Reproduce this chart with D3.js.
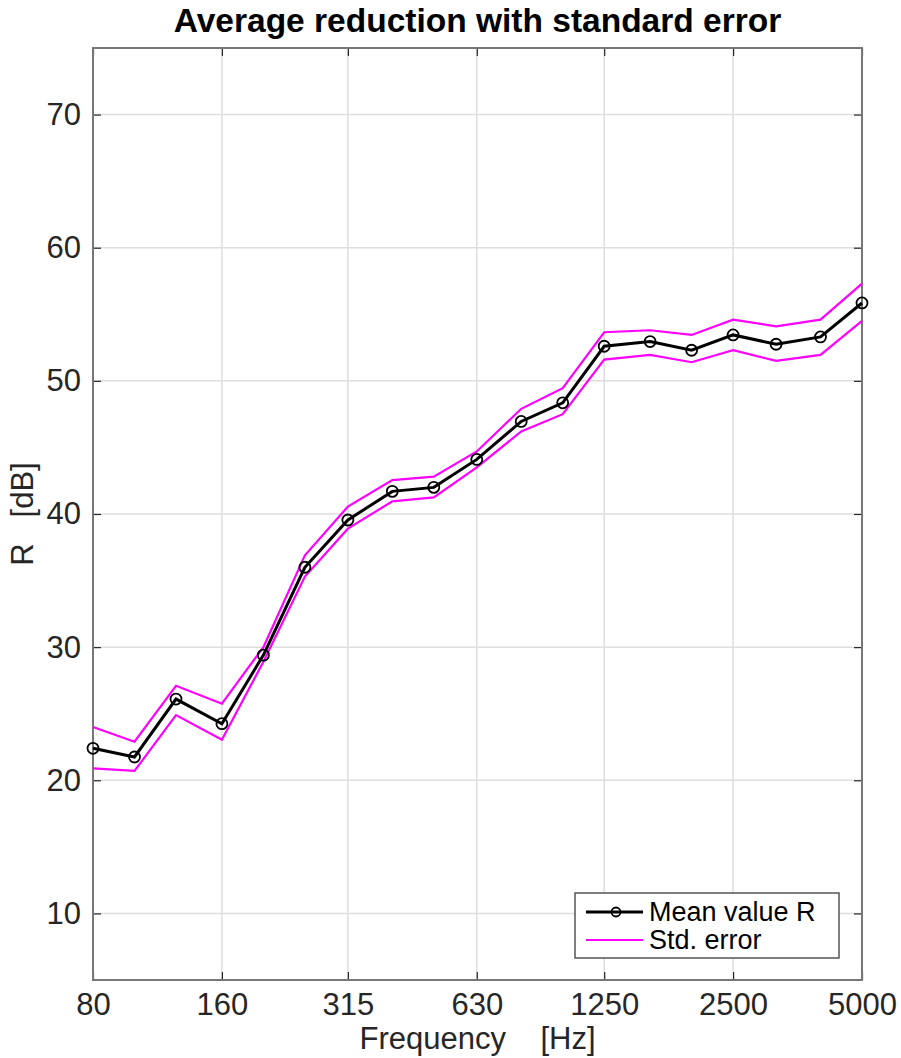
<!DOCTYPE html>
<html>
<head>
<meta charset="utf-8">
<script src="https://cdn.jsdelivr.net/npm/d3@7"></script>
<style>
  body { margin: 0; background: #fff; }
  text { font-family: "Liberation Sans", Arial, sans-serif; }
</style>
</head>
<body>
<div id="chart"></div>
<script>
var svgWidth = 901;
var svgHeight = 1058;

var margin = { top: 48, right: 39, bottom: 78, left: 93 };
var width = svgWidth - margin.left - margin.right;
var height = svgHeight - margin.top - margin.bottom;

// third-octave bands
var freqs = [80, 100, 125, 160, 200, 250, 315, 400, 500, 630, 800, 1000, 1250, 1600, 2000, 2500, 3150, 4000, 5000];
var meanR = [22.4, 21.75, 26.1, 24.25, 29.4, 36.0, 39.55, 41.7, 42.0, 44.1, 46.95, 48.35, 52.6, 52.95, 52.3, 53.45, 52.75, 53.3, 55.85];
var upperR = [24.0, 22.9, 27.1, 25.75, 30.0, 36.9, 40.55, 42.55, 42.8, 44.7, 47.9, 49.45, 53.65, 53.8, 53.45, 54.6, 54.1, 54.6, 57.3];
var lowerR = [20.9, 20.7, 24.9, 23.05, 28.9, 35.3, 38.9, 40.95, 41.25, 43.5, 46.2, 47.5, 51.6, 51.95, 51.4, 52.3, 51.5, 51.95, 54.5];
var xTicks = [80, 160, 315, 630, 1250, 2500, 5000];
var yTicks = [10, 20, 30, 40, 50, 60, 70];

var svg = d3.select("#chart")
  .append("svg")
  .attr("width", svgWidth)
  .attr("height", svgHeight);

var chartGroup = svg.append("g")
  .attr("transform", `translate(${margin.left}, ${margin.top})`);

var xScale = d3.scaleLog().domain([80, 5000]).range([0, width]);
var yScale = d3.scaleLinear().domain([5, 75]).range([height, 0]);

// grid
chartGroup.selectAll(".xgrid")
  .data(xTicks)
  .enter()
  .append("line")
  .attr("x1", d => xScale(d))
  .attr("x2", d => xScale(d))
  .attr("y1", 0)
  .attr("y2", height)
  .attr("stroke", "#dedede")
  .attr("stroke-width", 1.5);

chartGroup.selectAll(".ygrid")
  .data(yTicks)
  .enter()
  .append("line")
  .attr("x1", 0)
  .attr("x2", width)
  .attr("y1", d => yScale(d))
  .attr("y2", d => yScale(d))
  .attr("stroke", "#dedede")
  .attr("stroke-width", 1.5);

// axes with inward ticks (box on, like the original figure)
var bottomAxis = d3.axisBottom(xScale).tickValues(xTicks).tickFormat(d3.format("d")).tickSizeInner(-8).tickSizeOuter(0).tickPadding(13);
var topAxis = d3.axisTop(xScale).tickValues(xTicks).tickFormat("").tickSizeInner(-8).tickSizeOuter(0);
var leftAxis = d3.axisLeft(yScale).tickValues(yTicks).tickSizeInner(-8).tickSizeOuter(0).tickPadding(12);
var rightAxis = d3.axisRight(yScale).tickValues(yTicks).tickFormat("").tickSizeInner(-8).tickSizeOuter(0);

function styleAxis(g) {
  g.select(".domain").remove();
  g.selectAll(".tick line").attr("stroke", "#262626").attr("stroke-width", 1.2);
  g.selectAll(".tick text").attr("fill", "#262626").attr("font-size", 31)
    .style("font-family", "'Liberation Sans', Arial, sans-serif");
}

chartGroup.append("g").attr("transform", `translate(0, ${height})`).call(bottomAxis).call(styleAxis);
chartGroup.append("g").call(topAxis).call(styleAxis);
chartGroup.append("g").call(leftAxis).call(styleAxis);
chartGroup.append("g").attr("transform", `translate(${width}, 0)`).call(rightAxis).call(styleAxis);

// box
chartGroup.append("rect")
  .attr("x", 0)
  .attr("y", 0)
  .attr("width", width)
  .attr("height", height)
  .attr("fill", "none")
  .attr("stroke", "#777")
  .attr("stroke-width", 2);

// lines
function lineFor(values) {
  return d3.line()
    .x((d, i) => xScale(freqs[i]))
    .y(d => yScale(d))(values);
}

chartGroup.append("path")
  .attr("d", lineFor(upperR))
  .attr("fill", "none")
  .attr("stroke", "#ff00ff")
  .attr("stroke-width", 2.2);

chartGroup.append("path")
  .attr("d", lineFor(lowerR))
  .attr("fill", "none")
  .attr("stroke", "#ff00ff")
  .attr("stroke-width", 2.2);

chartGroup.append("path")
  .attr("d", lineFor(meanR))
  .attr("fill", "none")
  .attr("stroke", "#000")
  .attr("stroke-width", 3);

chartGroup.selectAll(".marker")
  .data(meanR)
  .enter()
  .append("circle")
  .attr("cx", (d, i) => xScale(freqs[i]))
  .attr("cy", d => yScale(d))
  .attr("r", 5.5)
  .attr("fill", "none")
  .attr("stroke", "#000")
  .attr("stroke-width", 1.8);

// title and labels
svg.append("text")
  .attr("x", margin.left + width / 2)
  .attr("y", 32)
  .attr("text-anchor", "middle")
  .attr("font-size", 33.5)
  .attr("font-weight", "bold")
  .attr("fill", "#000")
  .text("Average reduction with standard error");

svg.append("text")
  .attr("x", margin.left + width / 2)
  .attr("y", 1049)
  .attr("text-anchor", "middle")
  .attr("font-size", 31)
  .attr("fill", "#262626")
  .attr("xml:space", "preserve")
  .text("Frequency    [Hz]");

svg.append("text")
  .attr("transform", `translate(33, ${margin.top + height / 2}) rotate(-90)`)
  .attr("text-anchor", "middle")
  .attr("font-size", 31)
  .attr("fill", "#262626")
  .attr("xml:space", "preserve")
  .text("R   [dB]");

// legend
var legend = svg.append("g").attr("transform", "translate(575, 893)");
legend.append("rect")
  .attr("width", 264)
  .attr("height", 65)
  .attr("fill", "#fff")
  .attr("stroke", "#555")
  .attr("stroke-width", 1.5);

legend.append("line")
  .attr("x1", 11).attr("x2", 68)
  .attr("y1", 19).attr("y2", 19)
  .attr("stroke", "#000").attr("stroke-width", 3);
legend.append("circle")
  .attr("cx", 41).attr("cy", 19).attr("r", 4.5)
  .attr("fill", "none").attr("stroke", "#000").attr("stroke-width", 1.8);
legend.append("text")
  .attr("x", 74).attr("y", 28)
  .attr("font-size", 27).attr("fill", "#000")
  .text("Mean value R");

legend.append("line")
  .attr("x1", 11).attr("x2", 68)
  .attr("y1", 47).attr("y2", 47)
  .attr("stroke", "#ff00ff").attr("stroke-width", 2.2);
legend.append("text")
  .attr("x", 74).attr("y", 56)
  .attr("font-size", 27).attr("fill", "#000")
  .text("Std. error");
</script>
</body>
</html>
